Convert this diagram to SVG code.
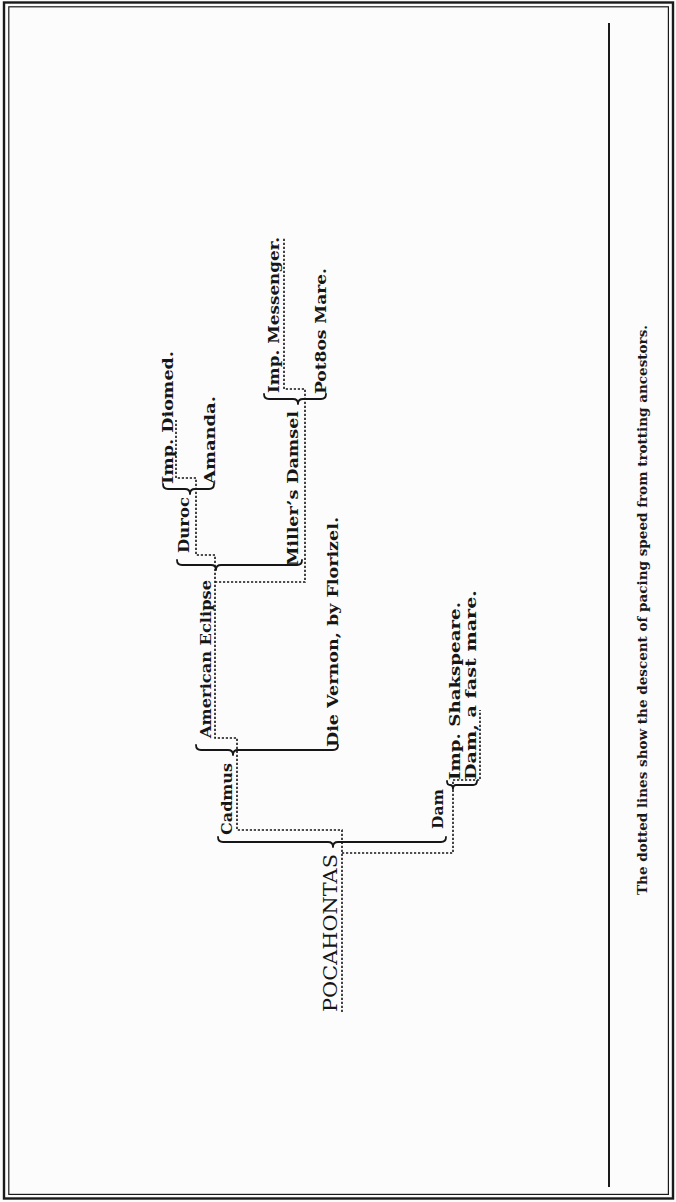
<svg xmlns="http://www.w3.org/2000/svg" width="676" height="1202" viewBox="0 0 676 1202">
<style>
.lbl{font-family:"DejaVu Serif","Liberation Serif",serif;font-weight:bold;font-size:15px;fill:#161616}
.root{font-family:"DejaVu Serif","Liberation Serif",serif;font-size:18px;fill:#161616}
.cap{font-family:"DejaVu Serif","Liberation Serif",serif;font-weight:bold;font-size:12.5px;fill:#1a1a1a}
.brace{fill:none;stroke:#161616;stroke-width:1.8;stroke-linejoin:round;stroke-linecap:round}
.dot{fill:none;stroke:#161616;stroke-width:1.6;stroke-dasharray:2.2 1.8}
.frame{fill:none;stroke:#1a1a1a}
</style>
<rect width="676" height="1202" fill="#fcfcfc"/>
<g id="frame">
<rect class="frame" x="4" y="2.5" width="669" height="1196" stroke-width="2.4"/>
<rect class="frame" x="8.8" y="6.8" width="659.6" height="1187.6" stroke-width="1.2"/>
<line class="frame" x1="609" y1="23" x2="609" y2="1187" stroke-width="2"/>
</g>
<g id="connectors">
<path class="brace" d="M218,837 Q218,842 223,842 L328,842 Q333,842 333,847 Q333,842 338,842 L441,842 Q446,842 446,837"/>
<path class="brace" d="M196,745 Q196,750 201,750 L228,750 Q233,750 233,755 Q233,750 238,750 L333,750 Q338,750 338,745"/>
<path class="brace" d="M177,560 Q177,565 182,565 L211,565 Q216,565 216,570 Q216,565 221,565 L297,565 Q302,565 302,560"/>
<path class="brace" d="M163,484 Q163,489 168,489 L185,489 Q190,489 190,494 Q190,489 195,489 L209,489 Q214,489 214,484"/>
<path class="brace" d="M264,394 Q264,399 269,399 L293,399 Q298,399 298,404 Q298,399 303,399 L321,399 Q326,399 326,394"/>
<path class="brace" d="M447,781 Q447,785 450,785 Q453,785 453,789 Q453,785 456,785 L473,785 Q477,785 477,781"/>
<path class="dot" d="M342,1012 L342,830 L237,830 L237,738 L215,738 L215,555 L196,555 L196,478 L176,478 L176,420"/>
<path class="dot" d="M215,582 L305,582 L305,389 L284,389 L284,237"/>
<path class="dot" d="M342,853 L453,853 L453,780 L480,780 L480,710"/>
</g>
<g id="node-pocahontas"><text class="root" transform="translate(337,1012) rotate(-90)" textLength="158" lengthAdjust="spacingAndGlyphs">POCAHONTAS</text></g>
<g id="node-cadmus"><text class="lbl" transform="translate(232,835) rotate(-90)" textLength="72" lengthAdjust="spacingAndGlyphs">Cadmus</text></g>
<g id="node-dam"><text class="lbl" transform="translate(443,829) rotate(-90)" textLength="40" lengthAdjust="spacingAndGlyphs">Dam</text></g>
<g id="node-american-eclipse"><text class="lbl" transform="translate(211,738) rotate(-90)" textLength="158" lengthAdjust="spacingAndGlyphs">American Eclipse</text></g>
<g id="node-die-vernon"><text class="lbl" transform="translate(338,747) rotate(-90)" textLength="230" lengthAdjust="spacingAndGlyphs">Die Vernon, by Florizel.</text></g>
<g id="node-duroc"><text class="lbl" transform="translate(189,553) rotate(-90)" textLength="56" lengthAdjust="spacingAndGlyphs">Duroc</text></g>
<g id="node-millers-damsel"><text class="lbl" transform="translate(298,566) rotate(-90)" textLength="155" lengthAdjust="spacingAndGlyphs">Miller’s Damsel</text></g>
<g id="node-imp-diomed"><text class="lbl" transform="translate(173,484) rotate(-90)" textLength="133" lengthAdjust="spacingAndGlyphs">Imp. Diomed.</text></g>
<g id="node-amanda"><text class="lbl" transform="translate(215,484) rotate(-90)" textLength="88" lengthAdjust="spacingAndGlyphs">Amanda.</text></g>
<g id="node-imp-messenger"><text class="lbl" transform="translate(279,393) rotate(-90)" textLength="156" lengthAdjust="spacingAndGlyphs">Imp. Messenger.</text></g>
<g id="node-pot8os-mare"><text class="lbl" transform="translate(326,394) rotate(-90)" textLength="126" lengthAdjust="spacingAndGlyphs">Pot8os Mare.</text></g>
<g id="node-imp-shakspeare"><text class="lbl" transform="translate(460,780) rotate(-90)" textLength="178" lengthAdjust="spacingAndGlyphs">Imp. Shakspeare.</text></g>
<g id="node-dam-fast-mare"><text class="lbl" transform="translate(476,780) rotate(-90)" textLength="190" lengthAdjust="spacingAndGlyphs">Dam, a fast mare.</text></g>
<g id="caption"><text class="cap" transform="translate(647,895) rotate(-90)" textLength="570" lengthAdjust="spacingAndGlyphs">The dotted lines show the descent of pacing speed from trotting ancestors.</text></g>
</svg>
